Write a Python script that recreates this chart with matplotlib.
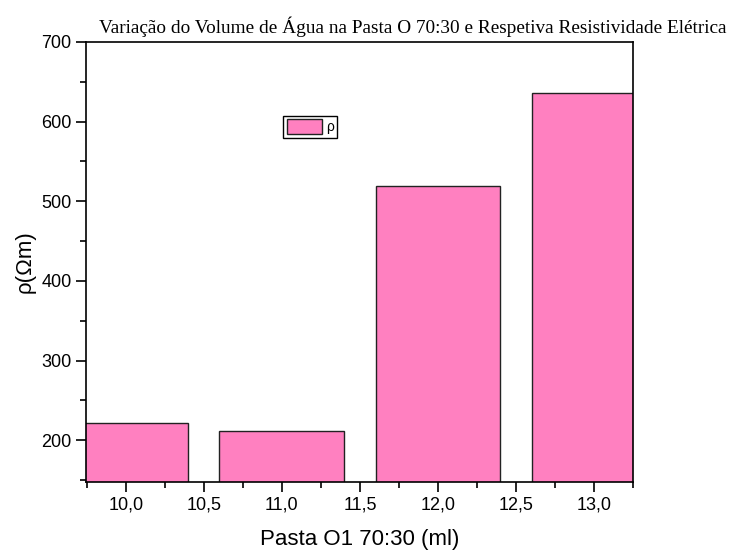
import matplotlib.pyplot as plt
from matplotlib.ticker import MultipleLocator

volume = [10.0, 11.0, 12.0, 13.0]
resistividade = [222, 212, 519, 636]
x_ticks = [10.0, 10.5, 11.0, 11.5, 12.0, 12.5, 13.0]
y_ticks = [200, 300, 400, 500, 600, 700]

plt.rcParams['font.family'] = ['Liberation Sans', 'DejaVu Sans']

fig = plt.figure(figsize=(7.32, 5.56), dpi=100)
ax = fig.add_axes([0.1175, 0.1336, 0.7475, 0.7909])

ax.bar(volume, resistividade, width=0.8, color='#FF80C0', edgecolor='#222222',
       linewidth=1.0, label='ρ', zorder=2)

ax.set_xlim(9.745, 13.25)
ax.set_ylim(148, 700)
ax.set_xticks(x_ticks)
ax.set_xticklabels([f"{v:.1f}".replace('.', ',') for v in x_ticks])
ax.set_yticks(y_ticks)
ax.xaxis.set_minor_locator(MultipleLocator(0.25))
ax.yaxis.set_minor_locator(MultipleLocator(50))
ax.tick_params(which='major', direction='out', length=7, width=1.2, labelsize=13)
ax.tick_params(which='minor', direction='out', length=4, width=1.2)
ax.tick_params(top=False, right=False)
for s in ax.spines.values():
    s.set_linewidth(1.2)

ax.set_xlabel('Pasta O1 70:30 (ml)', fontsize=16, labelpad=11)
ax.set_ylabel('ρ(Ωm)', fontsize=16, labelpad=4)
fig.text(0.564, 0.951,
         'Variação do Volume de Água na Pasta O 70:30 e Respetiva Resistividade Elétrica',
         fontsize=13.9, family=['Liberation Serif', 'DejaVu Serif'],
         ha='center', va='center')

leg = ax.legend(loc='center', bbox_to_anchor=(0.41, 0.807), fontsize=10,
                fancybox=False, edgecolor='black', framealpha=1,
                handlelength=2.5, handleheight=1.3, borderpad=0.25,
                handletextpad=0.3, borderaxespad=0)
leg.get_frame().set_linewidth(1.0)

fig.savefig('out.png', dpi=100)
